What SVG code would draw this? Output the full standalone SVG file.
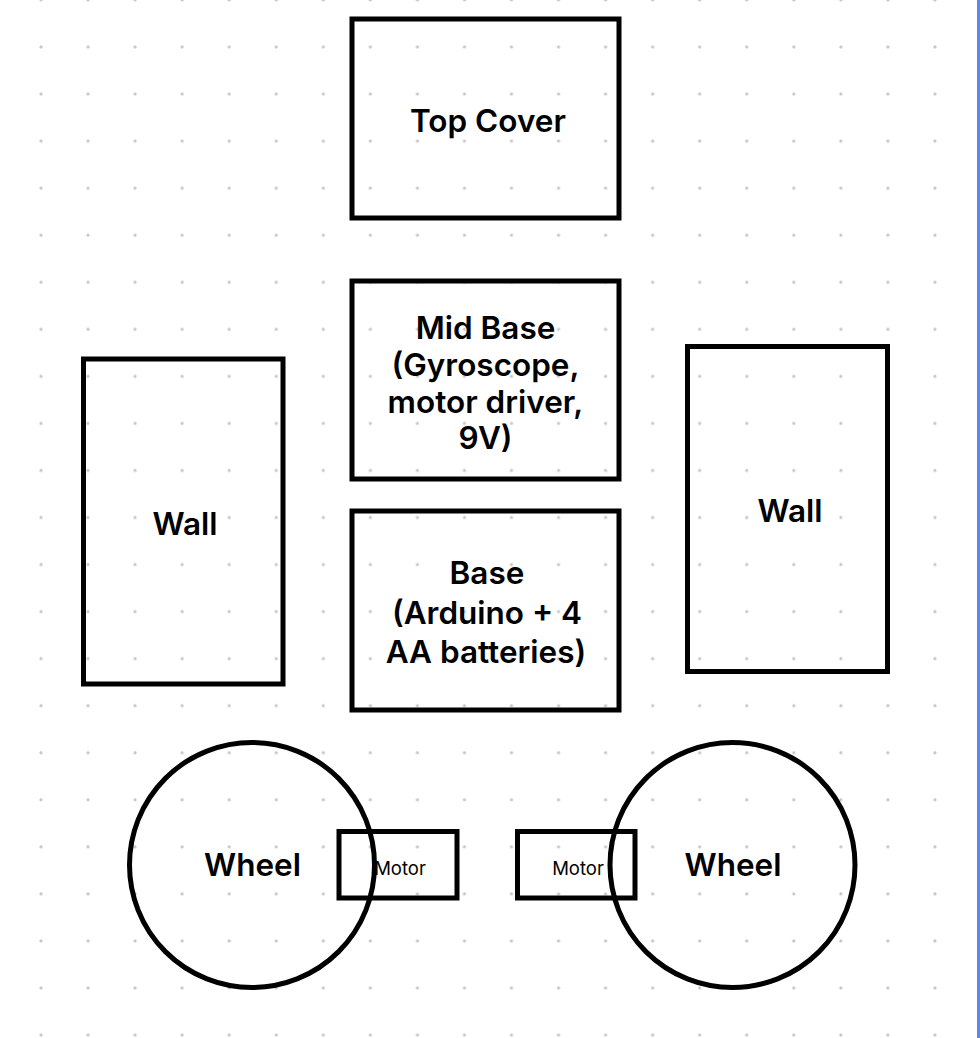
<svg xmlns="http://www.w3.org/2000/svg" width="980" height="1038" viewBox="0 0 980 1038">
  <defs>
    <pattern id="dots" patternUnits="userSpaceOnUse" x="17.5" y="-23.5" width="47.05" height="47.05">
      <circle cx="23.5" cy="23.5" r="1.6" fill="#c6c6c6"/>
    </pattern>
  </defs>
  <style>
    .box { fill: none; stroke: #000; stroke-width: 5; }
    .lbl { font-family: Inter, "Liberation Sans", Arial, sans-serif; font-weight: 600; font-size: 31.5px; fill: #000; text-anchor: middle; }
    .sm { font-family: Inter, "Liberation Sans", Arial, sans-serif; font-weight: 400; font-size: 18.5px; fill: #000; text-anchor: middle; }
  </style>
  <rect x="0" y="0" width="980" height="1038" fill="#ffffff"/>
  <rect x="0" y="0" width="977" height="1038" fill="url(#dots)"/>
  <rect x="977" y="0" width="3" height="1038" fill="#5a88ea"/>

  <g id="top-cover">
    <rect class="box" x="352" y="19" width="267" height="199"/>
    <text class="lbl" x="488" y="132">Top Cover</text>
  </g>
  <g id="mid-base">
    <rect class="box" x="352" y="281" width="267" height="198"/>
    <text class="lbl" x="485.5" y="339">Mid Base</text>
    <text class="lbl" x="485.5" y="376">(Gyroscope,</text>
    <text class="lbl" x="485.5" y="413">motor driver,</text>
    <text class="lbl" x="485.5" y="449">9V)</text>
  </g>
  <g id="base">
    <rect class="box" x="352" y="511" width="267" height="199"/>
    <text class="lbl" x="487" y="584">Base</text>
    <text class="lbl" x="487" y="624">(Arduino + 4</text>
    <text class="lbl" x="486" y="663">AA batteries)</text>
  </g>
  <g id="wall-left">
    <rect class="box" x="83.5" y="359" width="199.5" height="325"/>
    <text class="lbl" x="185" y="535">Wall</text>
  </g>
  <g id="wall-right">
    <rect class="box" x="687.5" y="346.5" width="200" height="325"/>
    <text class="lbl" x="790" y="522">Wall</text>
  </g>
  <g id="wheel-left">
    <circle class="box" cx="252" cy="865" r="122.5"/>
    <text class="lbl" x="252.5" y="876">Wheel</text>
  </g>
  <g id="wheel-right">
    <circle class="box" cx="732.5" cy="865" r="122.5"/>
    <text class="lbl" x="733" y="876">Wheel</text>
  </g>
  <g id="motor-left">
    <rect class="box" x="339" y="831.5" width="118" height="66.5"/>
    <text class="sm" x="400" y="875">Motor</text>
  </g>
  <g id="motor-right">
    <rect class="box" x="517.5" y="831.5" width="117.5" height="66.5"/>
    <text class="sm" x="578" y="875">Motor</text>
  </g>
  <g id="connectors"></g>
</svg>
